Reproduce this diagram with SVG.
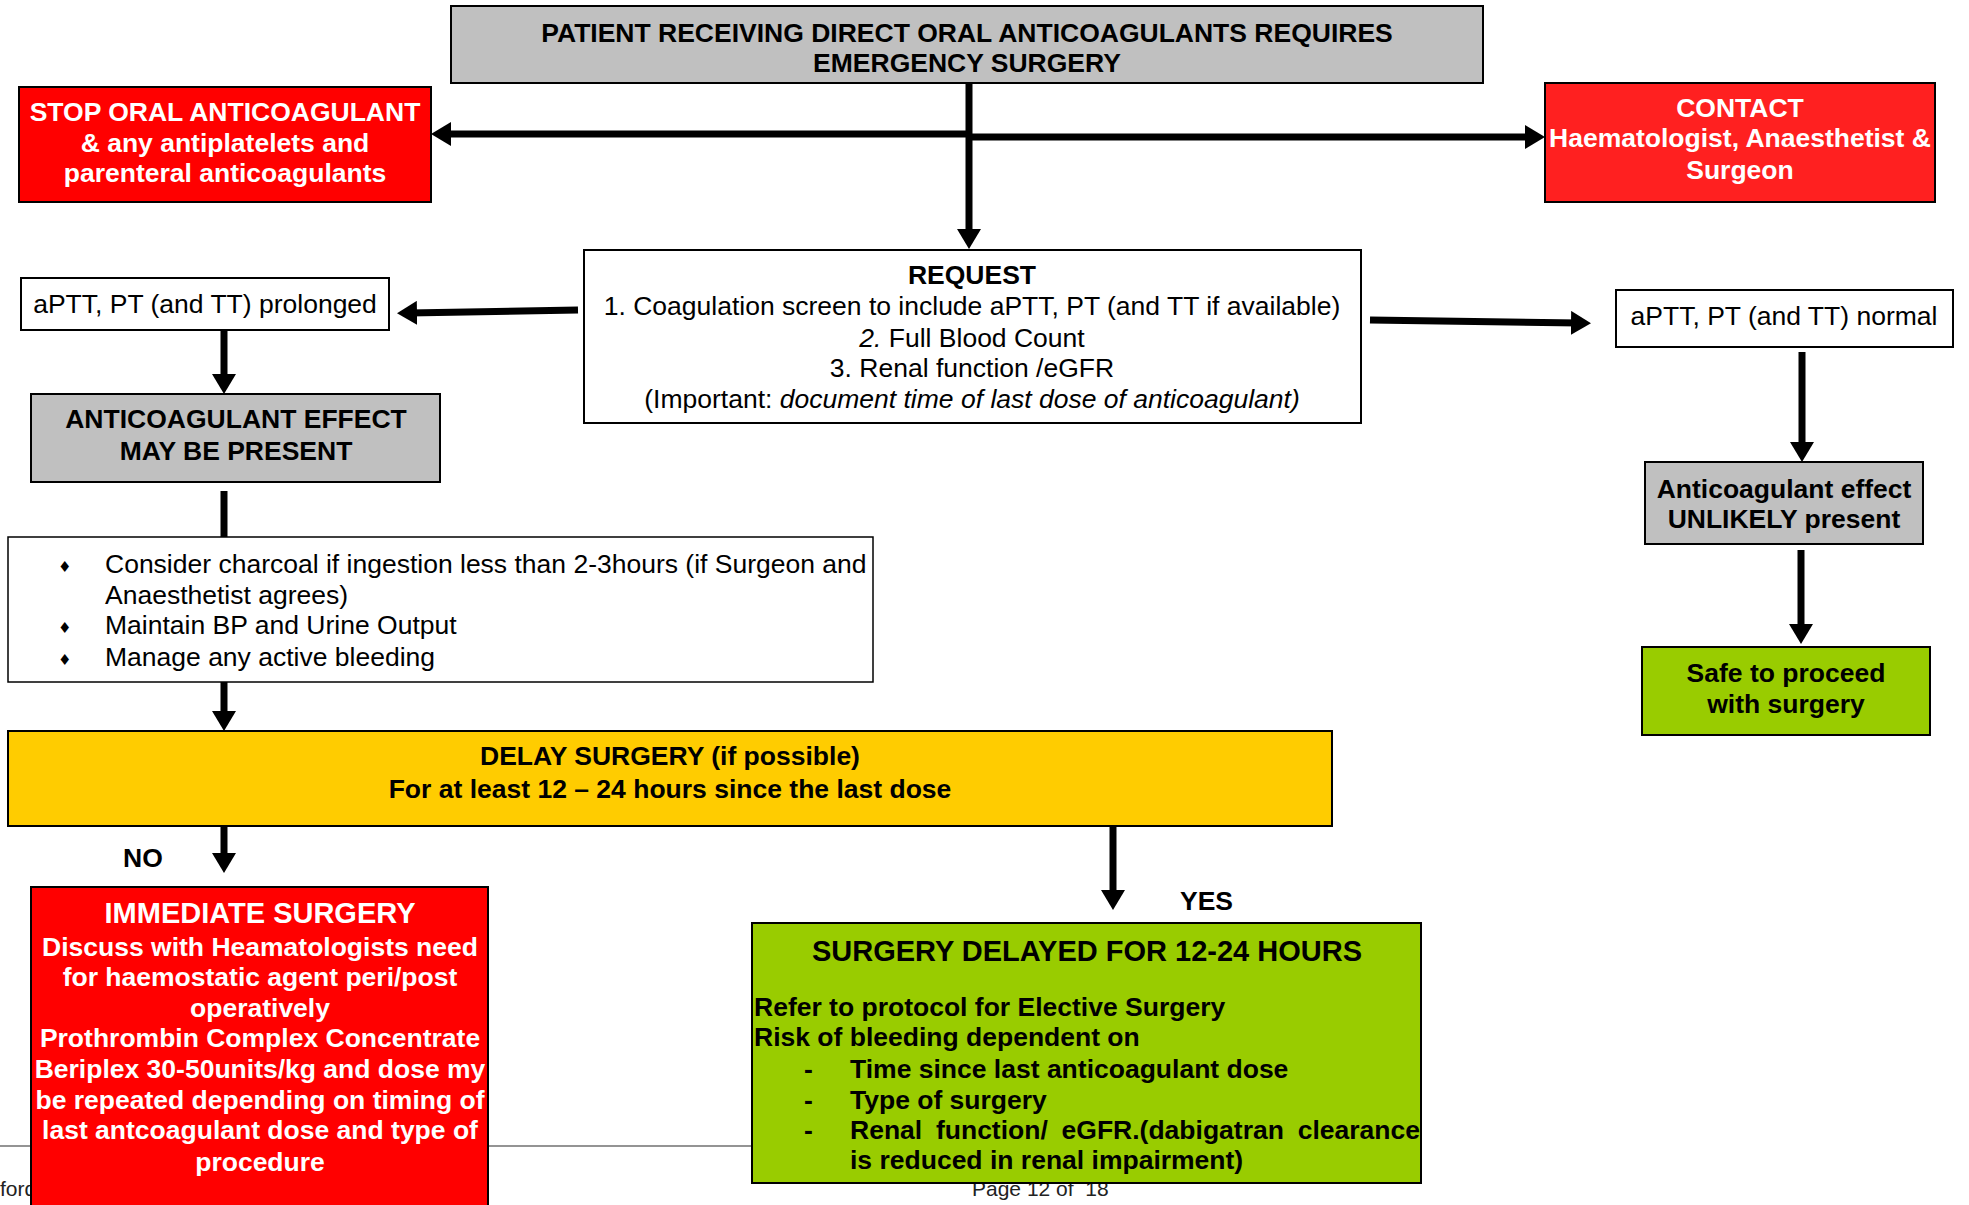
<svg xmlns="http://www.w3.org/2000/svg" width="1969" height="1205" viewBox="0 0 1969 1205">
<style>
text{font-family:"Liberation Sans",Arial,sans-serif;font-size:26.5px;fill:#000}
.b{font-weight:bold}
.w{fill:#fff}
.c{text-anchor:middle}
.big{font-size:29px}
.box{stroke:#000;stroke-width:2}
.gray{fill:#c0c0c0}
.red{fill:#ff0000}
.white{fill:#fff}
.yellow{fill:#ffcc00}
.green{fill:#99cc00}
.con line{stroke:#000;stroke-width:7;fill:none}
.foot{font-size:21px;fill:#222}
</style>
<defs>
<marker id="ah" markerWidth="20" markerHeight="24" refX="8" refY="12" orient="auto" markerUnits="userSpaceOnUse">
<path d="M0,0 L20,12 L0,24 z" fill="#000"/>
</marker>
</defs>
<rect width="1969" height="1205" fill="#fff"/>

<g id="footer">
<line x1="0" y1="1146" x2="760" y2="1146" stroke="#707070" stroke-width="1.5"/>
<text class="foot" x="0" y="1196">ford</text>
<text class="foot" x="972" y="1196" xml:space="preserve">Page 12 of  18</text>
</g>

<g id="connectors" class="con">
<line x1="969" y1="83" x2="969" y2="237" marker-end="url(#ah)"/>
<line x1="966" y1="134" x2="443" y2="134" marker-end="url(#ah)"/>
<line x1="972" y1="137" x2="1533" y2="137" marker-end="url(#ah)"/>
<line x1="578" y1="310" x2="409" y2="313" marker-end="url(#ah)"/>
<line x1="224" y1="331" x2="224" y2="382" marker-end="url(#ah)"/>
<line x1="224" y1="491" x2="224" y2="537"/>
<line x1="224" y1="682" x2="224" y2="719" marker-end="url(#ah)"/>
<line x1="224" y1="826" x2="224" y2="861" marker-end="url(#ah)"/>
<line x1="1113" y1="826" x2="1113" y2="898" marker-end="url(#ah)"/>
<line x1="1370" y1="320" x2="1579" y2="323" marker-end="url(#ah)"/>
<line x1="1802" y1="352" x2="1802" y2="450" marker-end="url(#ah)"/>
<line x1="1801" y1="550" x2="1801" y2="632" marker-end="url(#ah)"/>
</g>

<g id="title">
<rect class="box gray" x="451" y="6" width="1032" height="77"/>
<text class="b c" x="967" y="42">PATIENT RECEIVING DIRECT ORAL ANTICOAGULANTS REQUIRES</text>
<text class="b c" x="967" y="72">EMERGENCY SURGERY</text>
</g>

<g id="stop">
<rect class="box red" x="19" y="87" width="412" height="115"/>
<text class="b c w" x="225" y="121">STOP ORAL ANTICOAGULANT</text>
<text class="b c w" x="225" y="152">&amp; any antiplatelets and</text>
<text class="b c w" x="225" y="182">parenteral anticoagulants</text>
</g>

<g id="contact">
<rect class="box" fill="#ff2020" x="1545" y="83" width="390" height="119"/>
<text class="b c w" x="1740" y="117">CONTACT</text>
<text class="b c w" x="1740" y="147">Haematologist, Anaesthetist &amp;</text>
<text class="b c w" x="1740" y="179">Surgeon</text>
</g>

<g id="request">
<rect class="box white" x="584" y="250" width="777" height="173"/>
<text class="b c" x="972" y="284">REQUEST</text>
<text class="c" x="972" y="315">1. Coagulation screen to include aPTT, PT (and TT if available)</text>
<text class="c" x="972" y="347"><tspan font-style="italic">2.</tspan> Full Blood Count</text>
<text class="c" x="972" y="377">3. Renal function /eGFR</text>
<text class="c" x="972" y="408">(Important: <tspan font-style="italic">document time of last dose of anticoagulant)</tspan></text>
</g>

<g id="prolonged">
<rect class="box white" x="21" y="278" width="368" height="52"/>
<text class="c" x="205" y="313">aPTT, PT (and TT) prolonged</text>
</g>

<g id="may-be-present">
<rect class="box gray" x="31" y="394" width="409" height="88"/>
<text class="b c" x="236" y="428">ANTICOAGULANT EFFECT</text>
<text class="b c" x="236" y="460">MAY BE PRESENT</text>
</g>

<g id="measures">
<rect class="white" stroke="#000" stroke-width="1.5" x="8" y="537" width="865" height="145"/>
<text x="58" y="572" style="font-family:'DejaVu Sans',sans-serif;font-size:15px">♦</text>
<text x="105" y="573">Consider charcoal if ingestion less than 2-3hours (if Surgeon and</text>
<text x="105" y="604">Anaesthetist agrees)</text>
<text x="58" y="633" style="font-family:'DejaVu Sans',sans-serif;font-size:15px">♦</text>
<text x="105" y="634">Maintain BP and Urine Output</text>
<text x="58" y="665" style="font-family:'DejaVu Sans',sans-serif;font-size:15px">♦</text>
<text x="105" y="666">Manage any active bleeding</text>
</g>

<g id="delay">
<rect class="box yellow" x="8" y="731" width="1324" height="95"/>
<text class="b c" x="670" y="765">DELAY SURGERY (if possible)</text>
<text class="b c" x="670" y="798">For at least 12 – 24 hours since the last dose</text>
</g>

<g id="labels">
<text class="b" x="123" y="867">NO</text>
<text class="b" x="1180" y="910">YES</text>
</g>

<g id="immediate">
<rect class="box red" x="31" y="887" width="457" height="330"/>
<text class="b c w big" x="260" y="923">IMMEDIATE SURGERY</text>
<text class="b c w" x="260" y="956">Discuss with Heamatologists need</text>
<text class="b c w" x="260" y="986">for haemostatic agent peri/post</text>
<text class="b c w" x="260" y="1017">operatively</text>
<text class="b c w" x="260" y="1047">Prothrombin Complex Concentrate</text>
<text class="b c w" x="260" y="1078">Beriplex 30-50units/kg and dose my</text>
<text class="b c w" x="260" y="1109">be repeated depending on timing of</text>
<text class="b c w" x="260" y="1139">last antcoagulant dose and type of</text>
<text class="b c w" x="260" y="1171">procedure</text>
</g>

<g id="delayed">
<rect class="box green" x="752" y="923" width="669" height="260"/>
<text class="b c big" x="1087" y="961">SURGERY DELAYED FOR 12-24 HOURS</text>
<text class="b" x="754" y="1016">Refer to protocol for Elective Surgery</text>
<text class="b" x="754" y="1046">Risk of bleeding dependent on</text>
<text class="b" x="804" y="1078">-</text>
<text class="b" x="850" y="1078">Time since last anticoagulant dose</text>
<text class="b" x="804" y="1109">-</text>
<text class="b" x="850" y="1109">Type of surgery</text>
<text class="b" x="804" y="1139">-</text>
<text class="b" x="850" y="1139" word-spacing="6.4">Renal function/ eGFR.(dabigatran clearance</text>
<text class="b" x="850" y="1169">is reduced in renal impairment)</text>
</g>

<g id="normal">
<rect class="box white" x="1616" y="290" width="337" height="57"/>
<text class="c" x="1784" y="325">aPTT, PT (and TT) normal</text>
</g>

<g id="unlikely">
<rect class="box gray" x="1645" y="462" width="278" height="82"/>
<text class="b c" x="1784" y="498">Anticoagulant effect</text>
<text class="b c" x="1784" y="528">UNLIKELY present</text>
</g>

<g id="safe">
<rect class="box green" x="1642" y="647" width="288" height="88"/>
<text class="b c" x="1786" y="682">Safe to proceed</text>
<text class="b c" x="1786" y="713">with surgery</text>
</g>
</svg>
